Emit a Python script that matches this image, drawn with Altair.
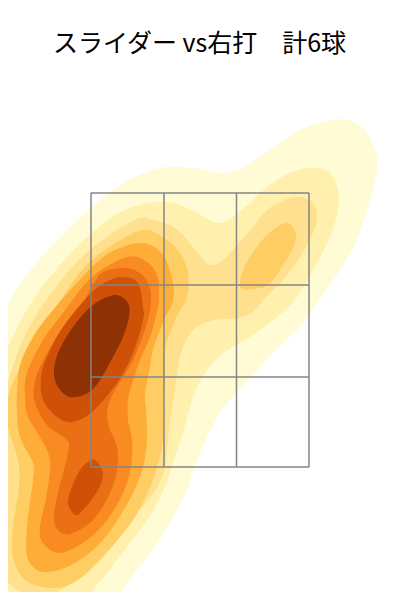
import altair as alt
import pandas as pd

TITLE = "スライダー vs右打　計6球"
ZONE_X = [91, 164, 236.5, 309]
ZONE_Y = [193, 285, 377, 467]
COLORS = ["#FFFBD5", "#FFF0AE", "#FEE08F", "#FECE65", "#FEAD39", "#F98B22", "#EB6F14", "#CE5107", "#8E3104"]

L1 = [(-20,340),(0,315),(17,290),(33,267),(67,230),(100,200),(133,178),(160,168),(180,167),(200,169),(223,173),(243,168),(267,152),(300,130),(327,121),(347,120),(363,128),(375,150),(377,170),(370,200),(357,240),(340,270),(317,303),(300,327),(273,353),(253,375),(237,392),(220,413),(207,437),(196,463),(184,497),(167,527),(147,557),(127,583),(105,612),(80,630),(30,640),(-20,620),(-30,480)]
L2 = [(-10,430),(0,385),(7,350),(33,300),(67,257),(92,233),(117,214),(143,204),(165,202),(180,205),(197,213),(217,223),(233,217),(250,203),(267,187),(290,173),(313,168),(330,173),(338,190),(338,210),(330,237),(313,270),(295,300),(273,320),(250,337),(223,353),(207,370),(197,387),(190,407),(183,433),(174,460),(167,482),(155,507),(140,530),(117,560),(93,590),(75,610),(40,625),(5,625),(-12,600),(-14,500)]
L3 = [(15,360),(33,320),(67,273),(92,248),(117,230),(140,218),(153,220),(170,225),(183,235),(197,252),(210,265),(223,260),(237,245),(253,227),(267,210),(287,199),(300,197),(313,203),(317,217),(313,233),(300,257),(283,280),(265,298),(253,312),(237,318),(210,321),(193,330),(183,347),(178,367),(175,390),(170,420),(167,450),(161,480),(142,507),(100,552),(77,577),(57,592),(33,597),(13,587),(5,573),(3,540),(4,513),(8,480),(5,460),(3,420),(8,385)]
L4A = [(25,360),(50,317),(72,283),(92,260),(117,242),(143,230),(163,237),(180,253),(188,273),(187,297),(175,320),(165,350),(165,378),(163,410),(163,440),(158,463),(151,485),(133,520),(100,560),(73,583),(50,588),(25,580),(13,557),(13,527),(19,487),(18,460),(8,427),(7,403),(14,380)]
L4B = [(241,288),(242,273),(250,257),(265,237),(280,225),(290,224),(296,235),(292,250),(280,270),(268,285),(254,289)]
L5 = [(33,337),(53,310),(92,267),(115,250),(143,243),(163,255),(173,283),(172,303),(164,320),(153,350),(150,367),(145,393),(146,410),(147,440),(143,467),(133,493),(113,527),(93,550),(67,567),(43,572),(30,563),(26,547),(28,517),(33,480),(33,463),(20,437),(17,410),(17,393),(20,365)]
L6 = [(43,340),(63,313),(92,277),(127,257),(147,262),(157,275),(159,290),(158,307),(150,337),(140,360),(133,380),(128,400),(128,420),(132,440),(131,467),(123,493),(107,520),(87,540),(60,553),(43,543),(40,527),(47,493),(50,460),(40,437),(28,417),(25,397),(27,373)]
L7 = [(57,337),(77,313),(92,287),(103,272),(125,268),(140,273),(148,283),(151,297),(148,320),(133,360),(110,400),(108,423),(117,447),(117,470),(110,493),(93,520),(70,534),(58,530),(54,517),(58,493),(68,453),(67,440),(47,425),(35,403),(34,387),(40,367)]
L8 = [(47,357),(63,327),(92,292),(110,280),(123,277),(138,283),(143,307),(143,320),(133,353),(117,383),(92,412),(72,422),(57,417),(43,400),(41,377)]
L8B = [(68,503),(72,487),(80,470),(88,462),(95,460),(103,473),(98,490),(83,510),(75,515)]
L9 = [(58,353),(73,327),(93,305),(115,295),(128,303),(129,317),(123,337),(113,357),(100,380),(88,393),(70,397),(58,387),(54,373)]

LEVELS = [("a",0,L1),("b",1,L2),("c",2,L3),("d",3,L4A),("e",3,L4B),("f",4,L5),("g",5,L6),("h",6,L7),("i",7,L8),("j",7,L8B),("k",8,L9)]

rows = []
for shape, (name, lev, pts) in enumerate(LEVELS):
    for i, (x, y) in enumerate(pts):
        rows.append(dict(shape=shape, level=lev, i=i, x=x, y=y))
df = pd.DataFrame(rows)

x_s = alt.Scale(domain=[8, 392], range=[0, 384], nice=False, zero=False)
y_s = alt.Scale(domain=[8, 592], range=[0, 584], nice=False, zero=False)

layers = []
for shape, (name, lev, pts) in enumerate(LEVELS):
    d = df[df["shape"] == shape]
    layers.append(
        alt.Chart(d).mark_line(interpolate="cardinal-closed", tension=0, filled=True, fill=COLORS[lev], stroke=COLORS[lev], strokeWidth=0.01, clip=False)
        .encode(x=alt.X("x:Q", scale=x_s, axis=None), y=alt.Y("y:Q", scale=y_s, axis=None), order="i:Q")
    )

v_rows = [dict(x=x, y=ZONE_Y[0], y2=ZONE_Y[-1]) for x in ZONE_X]
h_rows = [dict(y=y, x=ZONE_X[0], x2=ZONE_X[-1]) for y in ZONE_Y]
grid_color = "#858585"
vr = alt.Chart(pd.DataFrame(v_rows)).mark_rule(color=grid_color, strokeWidth=1.5).encode(
    x=alt.X("x:Q", scale=x_s, axis=None), y=alt.Y("y:Q", scale=y_s, axis=None), y2="y2:Q")
hr = alt.Chart(pd.DataFrame(h_rows)).mark_rule(color=grid_color, strokeWidth=1.5).encode(
    y=alt.Y("y:Q", scale=y_s, axis=None), x=alt.X("x:Q", scale=x_s, axis=None), x2="x2:Q")
title = alt.Chart(pd.DataFrame(dict(t=[TITLE], x=[199.5], y=[43.5]))).mark_text(
    font="Noto Sans CJK JP", fontSize=25, color="black", baseline="middle", align="center"
).encode(x=alt.X("x:Q", scale=x_s, axis=None), y=alt.Y("y:Q", scale=y_s, axis=None), text="t:N")

chart = alt.layer(*layers, vr, hr, title).properties(
    width=384, height=584, padding=0, autosize=alt.AutoSizeParams(type="none")
).configure_view(stroke=None)
chart.save("out.html", embed_options={"renderer": "svg", "actions": False})
